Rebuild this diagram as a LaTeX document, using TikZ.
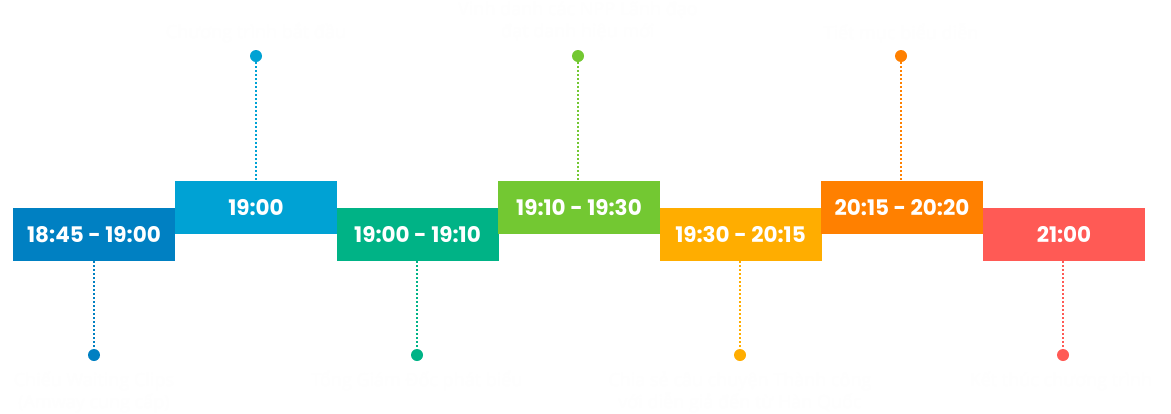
\documentclass[tikz,border=0pt]{standalone}
\usepackage{fontspec}
\setmainfont{Poppins}
\newfontfamily\capfont{Open Sans}
\definecolor{cA}{HTML}{0080C2}
\definecolor{cB}{HTML}{00A2D4}
\definecolor{cC}{HTML}{00B386}
\definecolor{cD}{HTML}{73C832}
\definecolor{cE}{HTML}{FFAD00}
\definecolor{cF}{HTML}{FF8000}
\definecolor{cG}{HTML}{FF5A55}
\definecolor{ghost}{HTML}{FEFEFE}
\begin{document}
\begin{tikzpicture}[x=1pt,y=-1pt,
  slot/.style={fill=#1, minimum width=162pt, minimum height=53pt, inner sep=0pt,
    text=white, font=\fontsize{21.5}{24}\selectfont\bfseries},
  lead/.style={draw=#1, line width=2pt, dash pattern=on 2pt off 2pt},
  pin/.style={circle, fill=#1, minimum size=12pt, inner sep=0pt},
  captext/.style={text=ghost, align=center, inner sep=0pt, font=\capfont\fontsize{18}{22}\selectfont}]
\useasboundingbox (0,0) rectangle (1171,413);
\fill[white] (0,0) rectangle (1171,413);
\node[slot=cA] (b1) at (94,234.5) {18:45 - 19:00};
\node[slot=cB] (b2) at (256,207.5) {19:00};
\node[slot=cC] (b3) at (417.5,234.5) {19:00 - 19:10};
\node[slot=cD] (b4) at (579,207.5) {19:10 - 19:30};
\node[slot=cE] (b5) at (740.5,234.5) {19:30 - 20:15};
\node[slot=cF] (b6) at (902,207.5) {20:15 - 20:20};
\node[slot=cG] (b7) at (1064,234.5) {21:00};
\node[pin=cB] (p2) at (256,56) {};
\node[pin=cD] (p4) at (578,56) {};
\node[pin=cF] (p6) at (901,56) {};
\node[pin=cA] (p1) at (94,355) {};
\node[pin=cC] (p3) at (417,355) {};
\node[pin=cE] (p5) at (740,355) {};
\node[pin=cG] (p7) at (1063,355) {};
\draw[lead=cB] (p2) -- (p2 |- b2.north);
\draw[lead=cD] (p4) -- (p4 |- b4.north);
\draw[lead=cF] (p6) -- (p6 |- b6.north);
\draw[lead=cA] (p1 |- b1.south) -- (p1);
\draw[lead=cC] (p3 |- b3.south) -- (p3);
\draw[lead=cE] (p5 |- b5.south) -- (p5);
\draw[lead=cG] (p7 |- b7.south) -- (p7);
\node[captext] (t2) at (256,33) {Chương trình bắt đầu};
\node[captext] (t4) at (578,21) {Vinh danh các NPP Lãnh đạo\\đạt danh hiệu mới};
\node[captext] (t6) at (901,33) {Tiết mục biểu diễn};
\node[captext] (t1) at (94,392) {Chiếu Waiting Clips\\(Amway cung cấp)};
\node[captext] (t3) at (417,381) {Tổng Giám Đốc phát biểu};
\node[captext] (t5) at (740,392) {Chia sẻ câu chuyện Thành công\\với diễn giả đến từ Hàn Quốc};
\node[captext] (t7) at (1061,381) {Kết thúc chương trình};
\end{tikzpicture}
\end{document}
